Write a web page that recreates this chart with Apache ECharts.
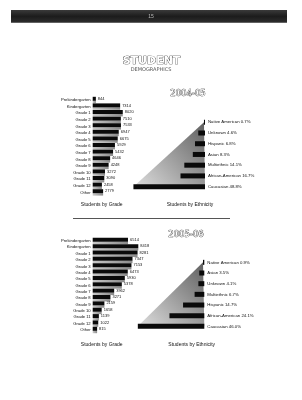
<!DOCTYPE html>
<html><head><meta charset="utf-8">
<script src="https://cdn.jsdelivr.net/npm/echarts@6/dist/echarts.min.js"></script>
<style>html,body{margin:0;padding:0;background:#fff}#c{width:302px;height:400px}</style>
</head><body><div id="c"></div>
<script>
const grades = ['Prekindergarten','Kindergarten','Grade 1','Grade 2','Grade 3','Grade 4','Grade 5','Grade 6','Grade 7','Grade 8','Grade 9','Grade 10','Grade 11','Grade 12','Other'];
const gradeValsA = [844,7314,8020,7510,7533,6947,6675,5929,5432,4646,4248,3272,3090,2458,2779];
const gradeValsB = [6514,8418,8281,7347,7153,6473,5930,5378,3962,3271,2159,1658,1139,1022,815];
const ethCatsA = ['Native American','Unknown','Hispanic','Asian','Multiethnic','African-American','Caucasian'];
const ethValsA = [0.7,4.6,6.8,8.3,14.1,16.7,48.8];
const ethCatsB = ['Native American','Asian','Unknown','Multiethnic','Hispanic','African-American','Caucasian'];
const ethValsB = [0.9,3.5,4.1,6.7,14.7,24.1,46.0];
const yearA = '2004-05';
const yearB = '2005-06';
const pageNo = '15';

const F = 'Liberation Sans, Arial, sans-serif';
const chart = echarts.init(document.getElementById('c'));

function gradeParts(gi, vals){
  return {
    y: {type:'category', gridIndex:gi, data:grades, inverse:true,
        axisLine:{show:false}, axisTick:{show:false},
        axisLabel:{interval:0, fontSize:4.2, color:'#111', margin:2, fontFamily:F}},
    x: {type:'value', gridIndex:gi, min:0, max:12000, show:false},
    s: [
      {type:'bar', xAxisIndex:gi, yAxisIndex:gi, data:vals, barWidth:4, barGap:'0%', z:3,
       itemStyle:{color:'#0a0a0a'},
       label:{show:true, position:'right', distance:2, fontSize:4, color:'#111', fontFamily:F}},
      {type:'bar', xAxisIndex:gi, yAxisIndex:gi, data:vals, barWidth:2.4, z:2,
       itemStyle:{color:new echarts.graphic.LinearGradient(0,0,1,0,[{offset:0,color:'#c8c8c8'},{offset:1,color:'#8a8a8a'}])}}
    ]
  };
}
function ethParts(gi, cats, vals){
  const n = cats.length;
  return {
    y: {type:'category', gridIndex:gi, data:cats, inverse:true, position:'right',
        axisLine:{show:false}, axisTick:{show:false},
        axisLabel:{interval:0, fontSize:4.3, color:'#111', margin:3, fontFamily:F,
          formatter:(v,i)=> v + ' ' + vals[i].toFixed(1) + '%'}},
    x: {type:'value', gridIndex:gi, min:0, max:60, inverse:true, show:false},
    s: [
      {type:'bar', xAxisIndex:gi, yAxisIndex:gi, data:vals, barWidth:5, z:3,
       itemStyle:{color:'#0a0a0a'}},
      {type:'line', xAxisIndex:gi, yAxisIndex:gi, symbol:'none', z:1,
       data:[[vals[n-1], cats[n-1]], [vals[0], cats[0]]],
       lineStyle:{width:0},
       areaStyle:{opacity:1, color:new echarts.graphic.LinearGradient(0,1,1,0,[{offset:0,color:'#dedede'},{offset:1,color:'#606060'}])}}
    ]
  };
}
const gA = gradeParts(0, gradeValsA), gB = gradeParts(1, gradeValsB);
const eA = ethParts(2, ethCatsA, ethValsA), eB = ethParts(3, ethCatsB, ethValsB);

const outline = {fill:'#fff', stroke:'#222', lineWidth:0.7};
chart.setOption({
  animation:false,
  grid:[
    {left:92.7, top:96.7, width:45, height:99},
    {left:92.7, top:237.8, width:65, height:95.4},
    {left:117, top:116.9, width:88, height:75.1},
    {left:117.6, top:257, width:86.7, height:74.7}
  ],
  xAxis:[gA.x, gB.x, eA.x, eB.x],
  yAxis:[gA.y, gB.y, eA.y, eB.y],
  series:[...gA.s, ...gB.s, ...eA.s, ...eB.s],
  graphic:[
    {type:'rect', shape:{x:11, y:10, width:276, height:12.7},
     style:{fill:new echarts.graphic.LinearGradient(0,0,0,1,[{offset:0,color:'#3a3a3a'},{offset:0.5,color:'#1c1c1c'},{offset:1,color:'#2e2e2e'}])}},
    {type:'text', x:151, y:16.5, style:{text:pageNo, fill:'#bbb', font:'5px '+F, align:'center', verticalAlign:'middle'}},
    {type:'text', x:151.5, y:61, style:Object.assign({text:'STUDENT', font:'bold 11px "DejaVu Sans"', align:'center', verticalAlign:'middle'}, outline)},
    {type:'text', x:151, y:69.5, style:{text:'DEMOGRAPHICS', fill:'#555', font:'5px "DejaVu Sans"', align:'center', verticalAlign:'middle'}},
    {type:'text', x:188, y:94, style:Object.assign({text:yearA, font:'8.5px "DejaVu Sans"', align:'center', verticalAlign:'middle'}, outline)},
    {type:'text', x:186, y:235, style:Object.assign({text:yearB, font:'8.5px "DejaVu Sans"', align:'center', verticalAlign:'middle'}, outline)},
    {type:'text', x:101.7, y:204.3, style:{text:'Students by Grade', fill:'#111', font:'5px '+F, align:'center', verticalAlign:'middle'}},
    {type:'text', x:190, y:204.3, style:{text:'Students by Ethnicity', fill:'#111', font:'5px '+F, align:'center', verticalAlign:'middle'}},
    {type:'text', x:101.7, y:344.3, style:{text:'Students by Grade', fill:'#111', font:'5px '+F, align:'center', verticalAlign:'middle'}},
    {type:'text', x:191.7, y:344.3, style:{text:'Students by Ethnicity', fill:'#111', font:'5px '+F, align:'center', verticalAlign:'middle'}},
    {type:'line', shape:{x1:73, y1:218.5, x2:230, y2:218.5}, style:{stroke:'#555', lineWidth:1}}
  ]
});
</script></body></html>
